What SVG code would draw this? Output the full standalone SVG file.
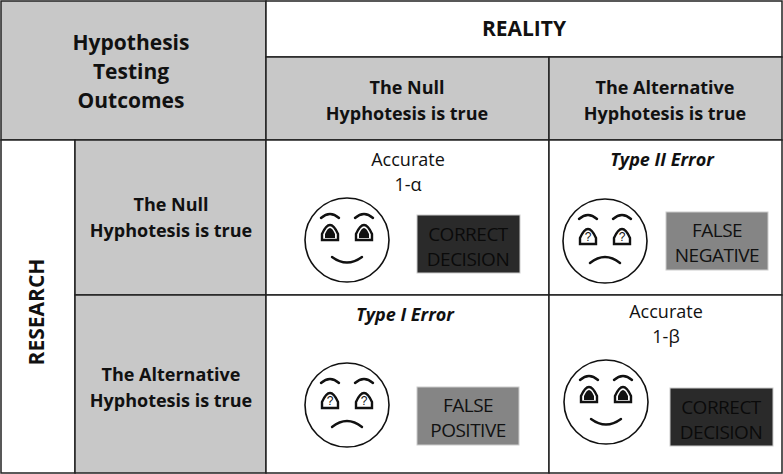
<svg xmlns="http://www.w3.org/2000/svg" width="783" height="474" viewBox="0 0 783 474">
<style>
.g{fill:#c8c8c8;stroke:#222;stroke-width:1.5}
.w{fill:#fff;stroke:#222;stroke-width:1.5}
.h{font-family:"Open Sans","Liberation Sans",sans-serif;font-weight:bold;fill:#111;text-anchor:middle}
.t{font-family:"Open Sans","Liberation Sans",sans-serif;fill:#111;text-anchor:middle;font-size:18px}
.b{font-family:"Open Sans","Liberation Sans",sans-serif;text-anchor:middle;font-size:19px;letter-spacing:-0.5px}
.f{fill:#fff;stroke:#111;stroke-width:1.6}
.l{fill:none;stroke:#111;stroke-width:2.4;stroke-linecap:round}
</style>
<defs>
<g id="happy">
<circle r="42" class="f"/>
<path class="l" d="M-26,-22 Q-17,-30 -8,-22 M8,-22 Q17,-30 26,-22"/>
<path d="M-25,0 L-25,-6 Q-17,-24 -9,-6 L-9,0 Z M9,0 L9,-6 Q17,-24 25,-6 L25,0 Z" fill="#fff" stroke="#111" stroke-width="2.4"/>
<path d="M-22,-2 L-22,-6 Q-17,-18 -12,-6 L-12,-2 Z M12,-2 L12,-6 Q17,-18 22,-6 L22,-2 Z" fill="#111"/>
<path class="l" d="M-15,17 Q0,28 15,17"/>
</g>
<g id="sad">
<circle r="42" class="f"/>
<path class="l" d="M-26,-22 Q-17,-30 -8,-22 M8,-22 Q17,-30 26,-22"/>
<path d="M-25,3 L-25,-3 Q-17,-21 -9,-3 L-9,3 Z M9,3 L9,-3 Q17,-21 25,-3 L25,3 Z" fill="#fff" stroke="#111" stroke-width="2.4"/>
<text x="-17" y="0" font-family="Liberation Sans,sans-serif" font-size="12" text-anchor="middle" fill="#111">?</text>
<text x="17" y="0" font-family="Liberation Sans,sans-serif" font-size="12" text-anchor="middle" fill="#111">?</text>
<path class="l" d="M-15,22 Q0,10 15,22"/>
</g>
</defs>
<g id="cells">
<rect x="1" y="1" width="265" height="139" class="g"/>
<rect x="266" y="1" width="516" height="56" class="w"/>
<rect x="266" y="57" width="283" height="83" class="g"/>
<rect x="549" y="57" width="233" height="83" class="g"/>
<rect x="1" y="140" width="74" height="333" class="w"/>
<rect x="75" y="140" width="191" height="155" class="g"/>
<rect x="75" y="295" width="191" height="178" class="g"/>
<rect x="266" y="140" width="283" height="155" class="w"/>
<rect x="549" y="140" width="233" height="155" class="w"/>
<rect x="266" y="295" width="283" height="178" class="w"/>
<rect x="549" y="295" width="233" height="178" class="w"/>
</g>
<g id="headers">
<text class="h" font-size="21" x="131" y="50">Hypothesis</text>
<text class="h" font-size="21" x="131" y="79">Testing</text>
<text class="h" font-size="21" x="131" y="108">Outcomes</text>
<text class="h" font-size="21" x="524" y="36">REALITY</text>
<text class="h" font-size="18" x="407" y="94">The Null</text>
<text class="h" font-size="18" x="407" y="120">Hyphotesis is true</text>
<text class="h" font-size="18" x="665" y="94">The Alternative</text>
<text class="h" font-size="18" x="665" y="120">Hyphotesis is true</text>
<text class="h" font-size="21" transform="translate(44,312) rotate(-90)">RESEARCH</text>
<text class="h" font-size="18" x="171" y="211">The Null</text>
<text class="h" font-size="18" x="171" y="237">Hyphotesis is true</text>
<text class="h" font-size="18" x="171" y="381">The Alternative</text>
<text class="h" font-size="18" x="171" y="407">Hyphotesis is true</text>
</g>
<g id="cell-tn">
<text class="t" x="408" y="166">Accurate</text>
<text class="t" x="408" y="191">1-α</text>
<use href="#happy" x="347" y="240"/>
<rect x="417" y="215" width="103" height="58" fill="#2a2a2a" stroke="#ccc"/>
<text class="b" x="468" y="241" fill="#0a0a0a">CORRECT</text>
<text class="b" x="468" y="266" fill="#0a0a0a">DECISION</text>
</g>
<g id="cell-fn">
<text class="t" x="662" y="166" font-weight="bold" font-style="italic">Type II Error</text>
<use href="#sad" x="605" y="241"/>
<rect x="666" y="212" width="102" height="58" fill="#858585" stroke="#ccc"/>
<text class="b" x="717" y="237" fill="#111">FALSE</text>
<text class="b" x="717" y="262" fill="#111">NEGATIVE</text>
</g>
<g id="cell-fp">
<text class="t" x="405" y="321" font-weight="bold" font-style="italic">Type I Error</text>
<use href="#sad" x="347" y="405"/>
<rect x="417" y="387" width="102" height="58" fill="#858585" stroke="#ccc"/>
<text class="b" x="468" y="412" fill="#111">FALSE</text>
<text class="b" x="468" y="437" fill="#111">POSITIVE</text>
</g>
<g id="cell-tp">
<text class="t" x="666" y="318">Accurate</text>
<text class="t" x="666" y="343">1-β</text>
<use href="#happy" x="606" y="402"/>
<rect x="670" y="388" width="103" height="58" fill="#2a2a2a" stroke="#ccc"/>
<text class="b" x="721" y="414" fill="#0a0a0a">CORRECT</text>
<text class="b" x="721" y="439" fill="#0a0a0a">DECISION</text>
</g>
</svg>
